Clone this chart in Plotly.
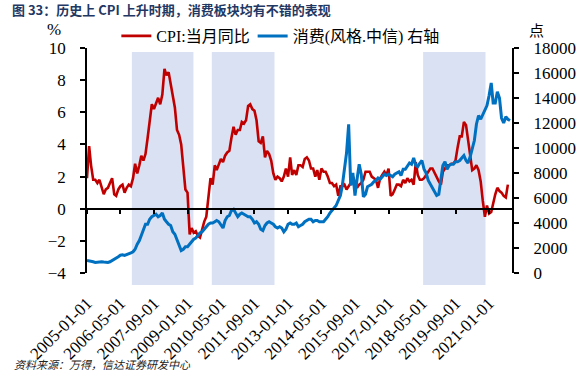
import pandas as pd
import plotly.graph_objects as go

# ---------------- data ----------------
cpi_start = "2005-01-01"
cpi_values = [
    1.9, 3.9, 2.7, 1.8, 1.8, 1.6, 1.8, 1.3, 0.9, 1.2, 1.3, 1.6,
    1.9, 0.9, 0.8, 1.2, 1.4, 1.5, 1.0, 1.3, 1.5, 1.4, 1.9, 2.8,
    2.2, 2.7, 3.3, 3.0, 3.4, 4.4, 5.6, 6.5, 6.2, 6.5, 6.9, 6.5,
    7.1, 8.7, 8.3, 8.5, 7.7, 7.1, 6.3, 4.9, 4.6, 4.0, 2.4, 1.2,
    1.0, -1.6, -1.2, -1.5, -1.4, -1.7, -1.8, -1.2, -0.8, -0.5, 0.6, 1.9,
    1.5, 2.7, 2.4, 2.8, 3.1, 2.9, 3.3, 3.5, 3.6, 4.4, 5.1, 4.6,
    4.9, 4.9, 5.4, 5.3, 5.5, 6.4, 6.5, 6.2, 6.1, 5.5, 4.2, 4.1,
    4.5, 3.2, 3.6, 3.4, 3.0, 2.2, 1.8, 2.0, 1.9, 1.7, 2.0, 2.5,
    2.0, 3.2, 2.1, 2.4, 2.1, 2.7, 2.7, 2.6, 3.1, 3.2, 3.0, 2.5,
    2.5, 2.0, 2.4, 1.8, 2.5, 2.3, 2.3, 2.0, 1.6, 1.6, 1.4, 1.5,
    0.8, 1.4, 1.4, 1.5, 1.2, 1.4, 1.6, 2.0, 1.6, 1.3, 1.5, 1.6,
    1.8, 2.3, 2.3, 2.3, 2.0, 1.9, 1.8, 1.3, 1.9, 2.1, 2.3, 2.1,
    2.5, 0.8, 0.9, 1.2, 1.5, 1.5, 1.4, 1.8, 1.6, 1.9, 1.7, 1.8,
    1.5, 2.9, 2.1, 1.8, 1.8, 1.9, 2.1, 2.3, 2.5, 2.5, 2.2, 1.9,
    1.7, 1.5, 2.3, 2.5, 2.7, 2.7, 2.8, 2.8, 3.0, 3.8, 4.5, 4.5,
    5.4, 5.2, 4.3, 3.3, 2.4, 2.5, 2.7, 2.4, 1.7, 0.5, -0.5, 0.2,
    -0.3, -0.2, 0.4, 0.9, 1.3, 1.1, 1.0, 0.8, 0.7, 1.5,
]

consumer_start = "2005-01-01"
consumer_values = [
    1000, 980, 950, 900, 850, 880, 870, 900, 880, 860, 850, 900,
    1000, 1050, 1180, 1300, 1420, 1450, 1400, 1450, 1550, 1600, 1700, 1900,
    2300, 2600, 3000, 3500, 3900, 3900, 4300, 4500, 4600, 4700, 4500, 4600,
    4800, 4300, 4100, 3900, 3800, 3300, 3100, 2700, 2300, 1800, 1900, 2100,
    2100, 2300, 2500, 2700, 2800, 3000, 3200, 3300, 3500, 3700, 3900, 4000,
    4000, 4100, 4200, 4100, 3800, 3600, 4200, 4500, 4600, 5000, 5100, 4800,
    4500, 4700, 4800, 4700, 4600, 4500, 4500, 4300, 4000, 4100, 3900, 3500,
    3400, 3800, 4000, 4100, 4000, 3900, 3700, 3600, 3700, 3600, 3300, 3500,
    3900, 4000, 3900, 3900, 4000, 3700, 3800, 3900, 4100, 4200, 4300, 4300,
    4100, 4200, 4200, 4100, 4100, 4100, 4300, 4500, 4800, 5000, 5200, 5400,
    5800, 6200, 7000, 8200, 9600, 11900, 7000, 8000, 6200, 7500, 8700, 7900,
    6100, 6300, 6900, 7000, 7100, 7300, 7400, 7600, 7500, 7700, 7900, 7800,
    7900, 7800, 7700, 7900, 8000, 8100, 7800, 8300, 8300, 8600, 8800, 8700,
    9200, 8600, 8500, 8800, 9000, 8300, 8000, 7400, 7100, 6800, 6600, 6200,
    6300, 7400, 8600, 8900, 8300, 8600, 8700, 8700, 8900, 8900, 9000, 9200,
    9400, 9000, 8800, 9300, 9900, 10600, 11900, 12600, 12300, 12700, 13000, 13400,
    14200, 15200, 13600, 13600, 14500, 14000, 12400, 12000, 12500, 12300, 12200,
]

tick_labels = [
    "2005-01-01", "2006-05-01", "2007-09-01", "2009-01-01", "2010-05-01",
    "2011-09-01", "2013-01-01", "2014-05-01", "2015-09-01", "2017-01-01",
    "2018-05-01", "2019-09-01", "2021-01-01",
]

shade_starts = ["2006-10-15", "2009-12-20", "2018-05-18"]
shade_ends = ["2009-03-28", "2012-06-18", "2020-11-10"]

x_range = ["2005-01-01", "2021-11-30"]
left_range = [-4, 10]
right_range = [0, 18000]

series_names = ["CPI:当月同比", "消费(风格.中信) 右轴"]
title_text = "图 33：历史上 CPI 上升时期，消费板块均有不错的表现"
source_text = "资料来源：万得，信达证券研发中心"

# ---------------- layout geometry ----------------
W, H = 588, 389
L, R, T, B = 87, 536, 48, 273


def px_x(px):
    return (px - L) / (R - L)


def px_y(py):
    return (B - py) / (B - T)


cpi_dates = pd.date_range(cpi_start, periods=len(cpi_values), freq="MS")
consumer_dates = pd.date_range(consumer_start, periods=len(consumer_values), freq="MS")

RED = "#C00000"
BLUE = "#0070C0"
SERIF = "Liberation Serif, Noto Sans CJK SC, serif"
legend_font = dict(family=SERIF, size=16, color="#000000")

fig = go.Figure()
fig.add_trace(go.Scatter(
    x=cpi_dates, y=cpi_values, name=series_names[0], mode="lines",
    line=dict(color=RED, width=2.6), xaxis="x", yaxis="y", legend="legend",
))
fig.add_trace(go.Scatter(
    x=consumer_dates, y=consumer_values, name=series_names[1], mode="lines",
    line=dict(color=BLUE, width=3), xaxis="x", yaxis="y2", legend="legend2",
))
# invisible helper traces so the extra axes are drawn
fig.add_trace(go.Scatter(
    x=cpi_dates[:1], y=[0], mode="markers", marker=dict(opacity=0),
    showlegend=False, hoverinfo="skip", xaxis="x2", yaxis="y",
))
fig.add_trace(go.Scatter(
    x=consumer_dates[:1], y=consumer_values[:1], mode="markers", marker=dict(opacity=0),
    showlegend=False, hoverinfo="skip", xaxis="x", yaxis="y3",
))

for s, e in zip(shade_starts, shade_ends):
    fig.add_shape(
        type="rect", xref="x", yref="paper", x0=s, x1=e,
        y0=px_y(285), y1=px_y(52),
        fillcolor="#D9E1F2", line=dict(width=0), layer="below",
    )

zero_pos = (0 - left_range[0]) / (left_range[1] - left_range[0])
tickfont = dict(family=SERIF, size=17, color="#000000")

fig.update_layout(
    width=W, height=H,
    margin=dict(l=L, r=W - R, t=T, b=H - B, pad=0),
    paper_bgcolor="white", plot_bgcolor="white",
    showlegend=True,
    legend=dict(
        orientation="h", x=px_x(118), xanchor="left", y=px_y(36), yanchor="middle",
        font=legend_font, bgcolor="rgba(0,0,0,0)", itemwidth=30,
    ),
    legend2=dict(
        orientation="h", x=px_x(262), xanchor="left", y=px_y(36), yanchor="middle",
        font=legend_font, bgcolor="rgba(0,0,0,0)", itemwidth=30,
    ),
    xaxis=dict(
        type="date", range=x_range, tickvals=tick_labels, ticktext=tick_labels,
        tickangle=-45, showgrid=False, zeroline=False, showline=False,
        ticks="", ticklabelstandoff=16, tickfont=tickfont,
    ),
    xaxis2=dict(
        type="date", range=x_range, overlaying="x", anchor="free", position=zero_pos,
        side="bottom", tickvals=tick_labels, showticklabels=False,
        showline=True, linecolor="#000000", linewidth=1.5,
        ticks="outside", ticklen=5, tickwidth=1.5, tickcolor="#000000",
        showgrid=False, zeroline=False,
    ),
    yaxis=dict(
        range=left_range, dtick=2, showgrid=False, zeroline=False,
        showline=True, linecolor="#000000", linewidth=1.5,
        ticks="outside", ticklen=5, tickwidth=1.5, tickcolor="#000000",
        ticklabelstandoff=11, tickfont=tickfont,
    ),
    yaxis2=dict(
        range=right_range, dtick=2000, overlaying="y", side="right",
        showgrid=False, zeroline=False, showticklabels=False,
        showline=True, linecolor="#000000", linewidth=1.5,
        ticks="outside", ticklen=5, tickwidth=1.5, tickcolor="#000000",
    ),
    yaxis3=dict(
        range=right_range, dtick=2000, overlaying="y", side="right", anchor="x",
        showgrid=False, zeroline=False, showline=False, tickformat="d",
        ticks="outside", ticklen=17, tickcolor="rgba(0,0,0,0)",
        tickfont=tickfont,
    ),
)

fig.add_annotation(
    text="<b>" + title_text + "</b>", xref="paper", yref="paper",
    x=px_x(6), y=px_y(9), xanchor="left", yanchor="middle", showarrow=False,
    font=dict(family="Noto Sans CJK SC, sans-serif", size=13, color="#1F3864"),
)
fig.add_annotation(
    text="%", xref="paper", yref="paper", x=px_x(52), y=px_y(30),
    xanchor="center", yanchor="middle", showarrow=False,
    font=dict(family=SERIF, size=17, color="#000000"),
)
fig.add_annotation(
    text="点", xref="paper", yref="paper", x=px_x(562), y=px_y(30),
    xanchor="center", yanchor="middle", showarrow=False,
    font=dict(family="Noto Sans CJK SC, serif", size=15, color="#000000"),
)
fig.add_annotation(
    text="<i>" + source_text + "</i>", xref="paper", yref="paper",
    x=px_x(8), y=px_y(364), xanchor="left", yanchor="middle", showarrow=False,
    font=dict(family="Noto Sans CJK SC, serif", size=11, color="#222222"),
)

fig.write_html(
    "out.html",
    config={"displayModeBar": False},
    post_script="document.body.style.margin='0';document.body.style.overflow='hidden';",
)
